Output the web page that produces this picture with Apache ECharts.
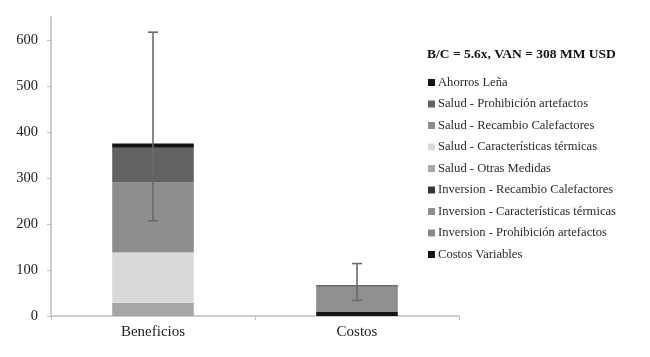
<!DOCTYPE html>
<html><head><meta charset="utf-8">
<script src="https://cdn.jsdelivr.net/npm/echarts@6/dist/echarts.min.js"></script>
<style>html,body{margin:0;padding:0;background:#fff}#c{width:650px;height:357px}</style>
</head><body><div id="c"></div>
<script>
const categories = ['Beneficios', 'Costos'];
// stack order bottom -> top
const seriesNames = [
  'Costos Variables',
  'Inversion - Prohibición artefactos',
  'Inversion - Características térmicas',
  'Inversion - Recambio Calefactores',
  'Salud - Otras Medidas',
  'Salud - Características térmicas',
  'Salud - Recambio Calefactores',
  'Salud - Prohibición artefactos',
  'Ahorros Leña'
];
const costosVariables = [0, 10];
const invProhibicion = [0, 0];
const invCaracteristicas = [0, 54];
const invRecambio = [0, 3];
const saludOtras = [29, 0];
const saludCaracteristicas = [109, 0];
const saludRecambio = [152, 0];
const saludProhibicion = [76, 0];
const ahorrosLena = [9, 0];
const errLow = [207, 34];
const errHigh = [617, 114];
const yTicks = [0, 100, 200, 300, 400, 500, 600];
const titleText = 'B/C = 5.6x, VAN = 308 MM USD';

const values = [costosVariables, invProhibicion, invCaracteristicas, invRecambio,
  saludOtras, saludCaracteristicas, saludRecambio, saludProhibicion, ahorrosLena];
const colors = ['#161616', '#8a8a8a', '#8f8f8f', '#353535',
  '#a6a6a6', '#dadada', '#8e8e8e', '#626262', '#141414'];

const font = '"Liberation Serif", "Times New Roman", serif';
const series = seriesNames.map((n, i) => ({
  name: n, type: 'bar', stack: 'total', data: values[i],
  barWidth: '40%', itemStyle: { color: colors[i] }
}));
series.push({
  type: 'custom', name: 'err', silent: true,
  data: categories.map((c, i) => [i, errLow[i], errHigh[i]]),
  renderItem: function (params, api) {
    const x = api.value(0);
    const lo = api.coord([x, api.value(1)]);
    const hi = api.coord([x, api.value(2)]);
    const w = 5;
    const st = { stroke: '#6a6a6a', lineWidth: 1.6 };
    return { type: 'group', children: [
      { type: 'line', shape: { x1: hi[0], y1: hi[1], x2: lo[0], y2: lo[1] }, style: st },
      { type: 'line', shape: { x1: hi[0] - w, y1: hi[1], x2: hi[0] + w, y2: hi[1] }, style: st },
      { type: 'line', shape: { x1: lo[0] - w, y1: lo[1], x2: lo[0] + w, y2: lo[1] }, style: st }
    ]};
  },
  z: 10
});

const chart = echarts.init(document.getElementById('c'), null, { renderer: 'canvas' });
chart.setOption({
  animation: false,
  backgroundColor: '#fff',
  title: {
    text: titleText, left: 422, top: 43,
    textStyle: { fontFamily: font, fontWeight: 'bold', fontSize: 13.5, color: '#111' }
  },
  legend: {
    orient: 'vertical', left: 423, top: 71, itemGap: 8.5,
    itemWidth: 7, itemHeight: 7, icon: 'rect',
    data: seriesNames.slice().reverse(),
    textStyle: { fontFamily: font, fontSize: 12.6, color: '#2a2a2a', padding: [0, 0, 0, -2] }
  },
  grid: { left: 51, right: 191, top: 17, bottom: 41, containLabel: false },
  xAxis: {
    type: 'category', data: categories,
    axisLine: { lineStyle: { color: '#bdbdbd', width: 1.5 } },
    axisTick: { show: true, length: 4, lineStyle: { color: '#bdbdbd' } },
    axisLabel: { fontFamily: font, fontSize: 15, color: '#222', margin: 9 }
  },
  yAxis: {
    type: 'value', min: 0, max: 650, interval: 100,
    splitLine: { show: false },
    axisLine: { show: true, lineStyle: { color: '#bdbdbd', width: 1.5 } },
    axisTick: { show: true, length: 4, customValues: yTicks, lineStyle: { color: '#bdbdbd' } },
    axisLabel: { fontFamily: font, fontSize: 14.5, color: '#222', margin: 13, customValues: yTicks }
  },
  series: series
});
</script></body></html>
